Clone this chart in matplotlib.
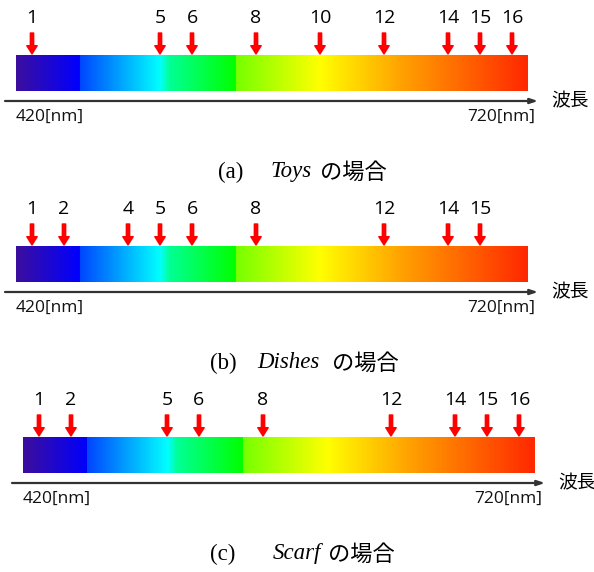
import numpy as np
import matplotlib
matplotlib.use('Agg')
import matplotlib.pyplot as plt
from matplotlib.colors import LinearSegmentedColormap

# selected band numbers (16 bands over 420-720 nm)
n_bands = 16
wl_min, wl_max = 420, 720
toys_bands = [1, 5, 6, 8, 10, 12, 14, 15, 16]
dishes_bands = [1, 2, 4, 5, 6, 8, 12, 14, 15]
scarf_bands = [1, 2, 5, 6, 8, 12, 14, 15, 16]
panel_letters = ['(a)', '(b)', '(c)']
panel_names = ['Toys', 'Dishes', 'Scarf']
axis_label = '波長'

# spectrum colours along the bar (fraction of bar, colour)
spec_cmap = LinearSegmentedColormap.from_list('spec', [
    (0.0, '#3c0e9e'), (0.125, '#0000ff'), (0.1253, '#0046ff'),
    (0.281, '#00ffff'), (0.30, '#00ff95'), (0.428, '#00ff00'),
    (0.4283, '#74ff00'), (0.594, '#ffff00'), (0.75, '#ffa400'),
    (1.0, '#ff2800')])

W, H = 594, 572
fig = plt.figure(figsize=(W / 100, H / 100), dpi=100)

px_per_band = 32.0
cjk = ['Noto Sans CJK JP', 'DejaVu Sans']


def draw_panel(ax, bands, letter, name, x0, cap_pos):
    # x in band units, y in local pixels
    left = 0.5 - x0 / px_per_band
    ax.set_xlim(left, left + W / px_per_band)
    ax.set_ylim(191, 0)
    ax.axis('off')

    grad = np.linspace(0, 1, 512).reshape(1, -1)
    ax.imshow(grad, cmap=spec_cmap, aspect='auto',
              extent=(0.5, n_bands + 0.5, 91, 55), interpolation='bilinear')

    for b in bands:
        ax.annotate('', xy=(b, 54), xytext=(b, 33),
                    arrowprops=dict(arrowstyle='simple,head_width=0.75,head_length=0.6,tail_width=0.24',
                                    color='#ff0000', shrinkA=0, shrinkB=0, mutation_scale=10))
        ax.text(b, 18, str(b), ha='center', va='center', fontsize=14,
                family='Open Sans', color='black')

    # wavelength axis
    ax.annotate('', xy=(0.5 + 522 / px_per_band, 101), xytext=(0.5 - 11 / px_per_band, 101),
                arrowprops=dict(arrowstyle='-|>,head_width=0.15,head_length=0.45',
                                color='#333333', lw=1.6, shrinkA=0, shrinkB=0))
    ax.text(0.5, 117, f'{wl_min}[nm]', ha='left', va='center', fontsize=12.5,
            family='Open Sans', color='#111111')
    ax.text(0.5 + 519 / px_per_band, 117, f'{wl_max}[nm]', ha='right', va='center',
            fontsize=12.5, family='Open Sans', color='#111111')
    ax.text(0.5 + 535 / px_per_band, 101, axis_label, ha='left', va='center',
            fontsize=13.5, family=cjk, color='black')

    # caption
    lx, nx, jx = cap_pos
    to_x = lambda p: left + p / px_per_band
    ax.text(to_x(lx), 172, letter, ha='left', va='center', fontsize=16.5,
            family='Liberation Serif')
    ax.text(to_x(nx), 172, name, ha='left', va='center', fontsize=16.5,
            family='Liberation Serif', style='italic')
    ax.text(to_x(jx), 172, 'の場合', ha='left', va='center', fontsize=16,
            family=cjk)


ax_a = fig.add_axes([0, 381 / H, 1, 191 / H])
ax_b = fig.add_axes([0, 190 / H, 1, 191 / H])
ax_c = fig.add_axes([0, -1 / H, 1, 191 / H])

draw_panel(ax_a, toys_bands, panel_letters[0], panel_names[0], 16, (218, 270, 320))
draw_panel(ax_b, dishes_bands, panel_letters[1], panel_names[1], 16, (210, 257, 332))
draw_panel(ax_c, scarf_bands, panel_letters[2], panel_names[2], 23, (210, 273, 328))

fig.savefig('out.png', dpi=100, facecolor='white')
